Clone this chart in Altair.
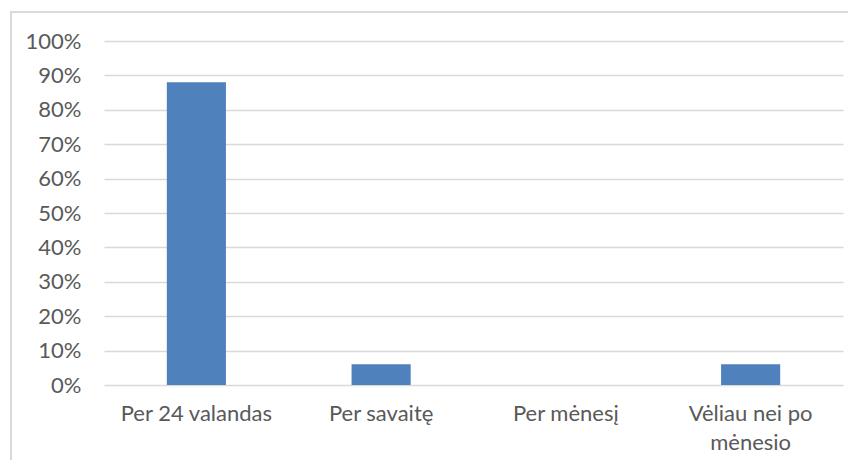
import altair as alt
import pandas as pd

categories = ["Per 24 valandas", "Per savaitę", "Per mėnesį", "Vėliau nei po mėnesio"]
values = [0.88, 0.06, 0.0, 0.06]

df = pd.DataFrame({"cat": categories, "val": values})

label_expr = (
    "datum.value == 'Vėliau nei po mėnesio' ? ['Vėliau nei po', 'mėnesio'] : datum.value"
)

FONT = "Lato"
TXT = "#595959"
GRID = "#d9d9d9"
FS = 22

bars = alt.Chart(df).mark_bar(color="#4F81BD").encode(
    x=alt.X(
        "cat:N",
        sort=categories,
        title=None,
        scale=alt.Scale(paddingInner=0.68, paddingOuter=0.34),
        axis=alt.Axis(
            labelAngle=0,
            labelExpr=label_expr,
            labelFont=FONT,
            labelFontSize=FS,
            labelColor=TXT,
            labelPadding=18,
            labelLineHeight=29,
            labelBaseline="top",
            ticks=False,
            tickSize=0,
            domain=False,
            grid=False,
        ),
    ),
    y=alt.Y(
        "val:Q",
        title=None,
        scale=alt.Scale(domain=[0, 1], nice=False),
        axis=alt.Axis(
            format=".0%",
            values=[i / 10 for i in range(11)],
            labelFont=FONT,
            labelFontSize=FS,
            labelColor=TXT,
            labelPadding=23,
            ticks=False,
            tickSize=0,
            domain=False,
            grid=True,
            gridColor=GRID,
            gridWidth=1.3,
        ),
    ),
)

border = alt.Chart(df).mark_rect(fill="transparent", stroke=GRID, strokeWidth=1.5).encode(
    x=alt.value(-93), x2=alt.value(800), y=alt.value(-29), y2=alt.value(600)
)

chart = (
    alt.layer(border, bars)
    .properties(
        width=739,
        height=344,
        autosize=alt.AutoSizeParams(type="none"),
        padding={"left": 96, "top": 33, "right": 5, "bottom": 75},
        background="white",
    )
    .configure_view(stroke=None)
)

chart.save("out.html", embed_options={"renderer": "svg", "actions": False})
